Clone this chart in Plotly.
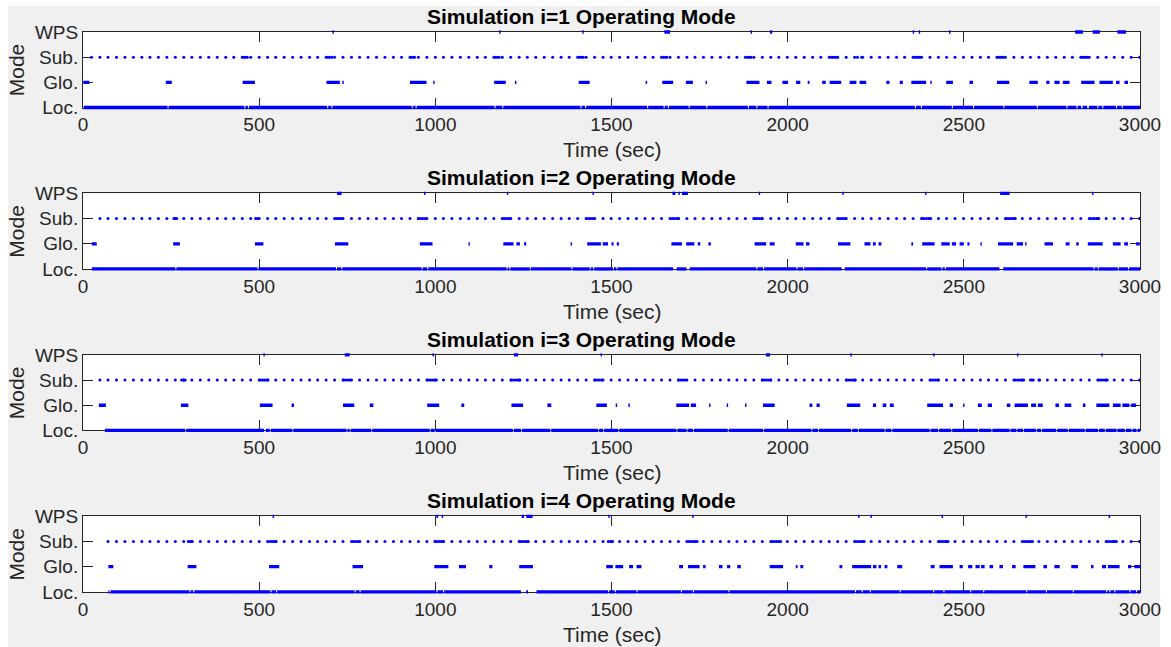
import plotly.graph_objects as go

# ---------------------------------------------------------------- data ----
X_MAX = 3000
X_TICKS = [0, 500, 1000, 1500, 2000, 2500, 3000]
MODE_LEVELS = [1, 2, 3, 4]
MODE_LABELS = ["Loc.", "Glo.", "Sub.", "WPS"]

# instants at which the substation optimisation step runs (common schedule, sec)
sub_schedule = [
    24, 48, 71, 95, 119, 143, 167, 190, 214, 238, 262, 286, 309, 333, 357, 381,
    405, 428, 452, 476, 500, 524, 547, 571, 595, 619, 643, 666, 690, 714, 738,
    762, 785, 809, 833, 857, 881, 904, 928, 952, 976, 1000, 1023, 1047, 1071,
    1095, 1119, 1142, 1166, 1190, 1214, 1238, 1261, 1285, 1309, 1333, 1357,
    1380, 1404, 1428, 1452, 1476, 1499, 1523, 1547, 1571, 1595, 1618, 1642,
    1666, 1690, 1714, 1737, 1761, 1785, 1809, 1833, 1856, 1880, 1904, 1928,
    1952, 1975, 1999, 2023, 2047, 2071, 2094, 2118, 2142, 2166, 2190, 2213,
    2237, 2261, 2285, 2309, 2332, 2356, 2380, 2404, 2428, 2451, 2475, 2499,
    2523, 2547, 2570, 2594, 2618, 2642, 2666, 2689, 2713, 2737, 2761, 2785,
    2808, 2832, 2856, 2880, 2904, 2927, 2951, 2975, 2999,
]

# ---- simulation i=1
sim1_start = 2
sim1_sub_from = 24
sim1_glo = [[1, 18], [235, 252], [453, 488], [691, 729], [736, 740], [928, 975],
            [994, 998], [1167, 1200], [1226, 1230], [1407, 1438], [1597, 1601],
            [1644, 1675], [1711, 1731], [1767, 1771], [1883, 1920], [1941, 1954],
            [1985, 2001], [2024, 2036], [2057, 2062], [2098, 2108], [2119, 2152],
            [2176, 2195], [2204, 2223], [2280, 2289], [2318, 2327], [2351, 2393],
            [2405, 2409], [2450, 2469], [2516, 2526], [2594, 2629], [2686, 2710],
            [2734, 2743], [2757, 2772], [2781, 2800], [2833, 2871], [2885, 2923],
            [2932, 2942], [2956, 2966]]
sim1_wps = [[708, 712], [1181, 1185], [1417, 1421], [1650, 1666], [1895, 1899],
            [1950, 1956], [2355, 2359], [2372, 2376], [2458, 2462], [2816, 2838],
            [2866, 2886], [2936, 2960]]
sim1_sub_extra = [456, 461, 466, 695, 700, 706, 931, 936, 941, 1171, 1176, 1181,
                  1410, 1415, 1420, 1647, 1652, 1657, 1886, 1891, 1896, 2123,
                  2128, 2133, 2138, 2198, 2210, 2360, 2365, 2370, 2375, 2598,
                  2603, 2608, 2613, 2836, 2841, 2846, 2851]
sim1_loc_gaps = [[240, 243], [458, 461], [468, 471], [693, 696], [705, 708],
                 [933, 936], [944, 947], [1168, 1171], [1190, 1193], [1412, 1415],
                 [1425, 1428], [1601, 1604], [1648, 1651], [1660, 1663], [1719, 1722],
                 [1769, 1772], [1887, 1890], [1911, 1914], [1943, 1946], [2361, 2364],
                 [2378, 2381], [2466, 2469], [2526, 2529], [2612, 2615], [2707, 2710],
                 [2791, 2794], [2820, 2823], [2833, 2837], [2850, 2855], [2879, 2882],
                 [2893, 2896], [2932, 2935], [2948, 2951]]

# ---- simulation i=2
sim2_start = 25
sim2_sub_from = 48
sim2_glo = [[25, 39], [256, 275], [488, 512], [715, 753], [956, 992], [1094, 1098],
            [1193, 1222], [1230, 1240], [1252, 1258], [1384, 1388], [1431, 1470],
            [1475, 1490], [1500, 1506], [1515, 1521], [1670, 1700], [1712, 1735],
            [1745, 1752], [1775, 1782], [1906, 1939], [1949, 1963], [2023, 2045],
            [2052, 2062], [2143, 2178], [2218, 2235], [2242, 2250], [2258, 2266],
            [2351, 2356], [2382, 2417], [2436, 2460], [2466, 2478], [2488, 2500],
            [2510, 2516], [2547, 2551], [2597, 2640], [2650, 2668], [2674, 2678],
            [2729, 2753], [2789, 2800], [2819, 2826], [2852, 2894], [2923, 2945],
            [2955, 2966], [2989, 2999]]
sim2_wps = [[721, 734], [968, 972], [1203, 1207], [1446, 1450], [1673, 1681],
            [1690, 1694], [1700, 1717], [1918, 1922], [2155, 2159], [2390, 2394],
            [2603, 2630], [2864, 2868]]
sim2_sub_extra = [258, 262, 266, 490, 495, 718, 723, 728, 733, 952, 958, 964, 970,
                  1195, 1200, 1206, 1212, 1433, 1439, 1445, 1451, 1672, 1678, 1684,
                  1690, 1908, 1914, 1920, 1926, 2145, 2151, 2157, 2163, 2382, 2388,
                  2394, 2400, 2406, 2622, 2628, 2634, 2640, 2646, 2859, 2865, 2871,
                  2877, 2883]
sim2_loc_gaps = [[262, 265], [495, 498], [718, 721], [733, 736], [961, 964],
                 [977, 980], [1202, 1205], [1210, 1213], [1268, 1271], [1386, 1389],
                 [1438, 1441], [1448, 1451], [1504, 1507], [1514, 1517], [1675, 1685],
                 [1713, 1722], [1911, 1914], [1930, 1933], [2025, 2028], [2044, 2047],
                 [2153, 2162], [2393, 2396], [2436, 2439], [2446, 2449], [2601, 2612],
                 [2868, 2871], [2880, 2883], [2937, 2940], [2966, 2969]]

# ---- simulation i=3
sim3_start = 62
sim3_sub_from = 48
sim3_glo = [[45, 65], [278, 299], [502, 538], [592, 599], [738, 770], [814, 824],
            [977, 1011], [1074, 1082], [1216, 1249], [1318, 1329], [1457, 1487],
            [1512, 1516], [1548, 1552], [1684, 1720], [1725, 1740], [1777, 1781],
            [1827, 1831], [1879, 1883], [1930, 1963], [2062, 2070], [2082, 2091],
            [2168, 2206], [2242, 2251], [2270, 2280], [2290, 2301], [2396, 2441],
            [2460, 2469], [2498, 2502], [2540, 2551], [2568, 2580], [2622, 2632],
            [2644, 2682], [2691, 2705], [2710, 2724], [2760, 2770], [2786, 2805],
            [2838, 2845], [2876, 2913], [2923, 2945], [2950, 2970], [2975, 2989]]
sim3_wps = [[512, 516], [743, 757], [992, 996], [1223, 1235], [1469, 1473],
            [1938, 1950], [2178, 2182], [2413, 2417], [2651, 2655], [2890, 2894]]
sim3_sub_extra = [280, 285, 290, 504, 510, 515, 520, 525, 740, 746, 752, 758, 979,
                  985, 991, 997, 1003, 1216, 1222, 1228, 1234, 1240, 1454, 1460,
                  1466, 1472, 1691, 1697, 1703, 1709, 1928, 1934, 1940, 1946, 1952,
                  2168, 2174, 2180, 2186, 2192, 2408, 2414, 2420, 2426, 2646, 2652,
                  2658, 2664, 2670, 2693, 2697, 2715, 2883, 2889, 2895, 2901, 2907]
sim3_loc_gaps = [[290, 293], [514, 519], [530, 533], [594, 597], [748, 751],
                 [757, 760], [818, 821], [984, 987], [998, 1001], [1220, 1223],
                 [1243, 1246], [1326, 1329], [1462, 1465], [1476, 1479], [1519, 1522],
                 [1684, 1687], [1713, 1716], [1731, 1734], [1830, 1833], [1930, 1933],
                 [2067, 2070], [2086, 2089], [2180, 2183], [2199, 2202], [2275, 2278],
                 [2294, 2297], [2403, 2406], [2427, 2430], [2464, 2467], [2540, 2543],
                 [2578, 2581], [2630, 2633], [2649, 2652], [2668, 2671], [2705, 2708],
                 [2719, 2722], [2762, 2765], [2795, 2798], [2843, 2846], [2881, 2884],
                 [2900, 2903], [2933, 2936], [2957, 2960], [2976, 2979], [2990, 2993]]

# ---- simulation i=4
sim4_start = 72
sim4_sub_from = 71
sim4_glo = [[72, 86], [297, 322], [528, 557], [765, 795], [997, 1037], [1067, 1087],
            [1153, 1162], [1238, 1277], [1485, 1504], [1511, 1533], [1550, 1561],
            [1571, 1585], [1692, 1703], [1717, 1750], [1760, 1767], [1805, 1815],
            [1828, 1837], [1857, 1867], [1949, 1987], [2023, 2028], [2036, 2044],
            [2147, 2155], [2183, 2237], [2242, 2252], [2258, 2265], [2275, 2283],
            [2311, 2325], [2406, 2417], [2431, 2469], [2488, 2497], [2512, 2524],
            [2533, 2545], [2549, 2559], [2573, 2583], [2601, 2611], [2637, 2647],
            [2669, 2703], [2726, 2736], [2757, 2772], [2805, 2824], [2861, 2868],
            [2892, 2904], [2909, 2942], [2966, 2975], [2984, 3000]]
sim4_wps = [[538, 542], [1003, 1008], [1018, 1022], [1245, 1252], [1258, 1276],
            [1491, 1495], [1729, 1733], [2200, 2204], [2235, 2239], [2437, 2441],
            [2675, 2679], [2911, 2915]]
sim4_sub_extra = [299, 304, 310, 530, 536, 542, 548, 767, 773, 779, 785, 999, 1005,
                  1011, 1017, 1023, 1240, 1246, 1252, 1258, 1264, 1491, 1497, 1503,
                  1719, 1725, 1731, 1737, 1743, 1956, 1962, 1968, 1974, 1980, 2193,
                  2199, 2205, 2211, 2217, 2431, 2437, 2443, 2449, 2455, 2671, 2677,
                  2683, 2689, 2695, 2909, 2915, 2921, 2927, 2933]
sim4_loc_gaps = [[75, 78], [302, 305], [313, 316], [532, 535], [548, 551],
                 [771, 774], [785, 788], [1003, 1006], [1022, 1025], [1243, 1258],
                 [1263, 1287], [1490, 1493], [1509, 1512], [1571, 1574], [1697, 1700],
                 [1731, 1734], [1832, 1835], [2191, 2194], [2210, 2213], [2233, 2236],
                 [2318, 2321], [2413, 2416], [2442, 2445], [2518, 2521], [2555, 2558],
                 [2677, 2680], [2733, 2736], [2809, 2812], [2904, 2907], [2913, 2916],
                 [2927, 2930], [2970, 2973], [2989, 2992]]

simulations = [
    (sim1_start, sim1_sub_from, sim1_glo, sim1_wps, sim1_sub_extra, sim1_loc_gaps),
    (sim2_start, sim2_sub_from, sim2_glo, sim2_wps, sim2_sub_extra, sim2_loc_gaps),
    (sim3_start, sim3_sub_from, sim3_glo, sim3_wps, sim3_sub_extra, sim3_loc_gaps),
    (sim4_start, sim4_sub_from, sim4_glo, sim4_wps, sim4_sub_extra, sim4_loc_gaps),
]

# -------------------------------------------------------------- layout ----
W, H = 1171, 647
AX_LEFT, AX_RIGHT = 83, 1140          # px
AX_TOP0, AX_STEP, AX_H = 32, 161.45, 75.5
TITLE_X = 581                         # px, centre of the panel titles
PAD = 5                               # px of headroom so edge marks are not clipped
BLUE = "#0000ff"
INK = "#262626"
FONT = "Liberation Sans, Arial, Helvetica, sans-serif"
TICK_SIZE, LABEL_SIZE = 19, 21


def spans_to_xy(spans, level):
    xs, ys = [], []
    for a, b in spans:
        xs += [a, b, None]
        ys += [level, level, None]
    return xs, ys


def loc_spans(start, gaps):
    out, cur = [], start
    for a, b in gaps:
        out.append([cur, a])
        cur = b
    out.append([cur, X_MAX])
    return out


def ax_id(k):
    return "" if k == 1 else str(k)


fig = go.Figure()
shapes, annotations = [], []

# light-grey figure area
shapes.append(dict(type="rect", xref="paper", yref="paper", layer="below",
                   x0=8 / W, x1=1160 / W, y0=0, y1=1 - 6 / H,
                   fillcolor="#f0f0f0", line=dict(width=0)))

xd = [AX_LEFT / W, AX_RIGHT / W]
for i, (start, sub_from, glo, wps, sub_extra, gaps) in enumerate(simulations):
    n = i + 1
    top = AX_TOP0 + AX_STEP * i
    bot = top + AX_H
    yd = [1 - bot / H, 1 - top / H]
    unit = AX_H / 3.0
    pad_u = PAD / unit
    xa, ya = "x" + ax_id(n), "y" + ax_id(n)
    xo, yo = "x" + ax_id(n + 4), "y" + ax_id(n + 4)

    fig.update_layout(**{
        "xaxis" + ax_id(n): dict(
            domain=xd, anchor=ya, range=[0, X_MAX], tickvals=X_TICKS,
            ticks="inside", ticklen=10, tickwidth=0.8, tickcolor=INK,
            showline=True, linecolor=INK, linewidth=1, mirror="ticks",
            showgrid=False, zeroline=False, layer="below traces", automargin=False,
            tickfont=dict(family=FONT, size=TICK_SIZE, color=INK)),
        "yaxis" + ax_id(n): dict(
            domain=yd, anchor=xa, range=[1, 4], tickvals=MODE_LEVELS,
            ticktext=MODE_LABELS, ticks="inside", ticklen=10,
            tickwidth=0.8, tickcolor=INK, showline=True, linecolor=INK,
            linewidth=1, mirror="ticks", showgrid=False, zeroline=False,
            layer="below traces", automargin=False,
            tickfont=dict(family=FONT, size=TICK_SIZE, color=INK)),
        # hidden twin axes with the same scale but a little headroom
        "xaxis" + ax_id(n + 4): dict(
            domain=xd, anchor=yo, range=[0, X_MAX], visible=False, automargin=False),
        "yaxis" + ax_id(n + 4): dict(
            domain=[yd[0] - PAD / H, yd[1] + PAD / H], anchor=xo,
            range=[1 - pad_u, 4 + pad_u], visible=False, automargin=False),
    })

    shapes.append(dict(type="rect", xref=f"{xa} domain", yref=f"{ya} domain",
                       layer="below", x0=0, x1=1, y0=0, y1=1,
                       fillcolor="white", line=dict(width=0)))

    # empty trace so the framed subplot is built
    fig.add_trace(go.Scatter(x=[None], y=[None], xaxis=xa, yaxis=ya, mode="lines",
                             hoverinfo="skip", showlegend=False))

    lx, ly = spans_to_xy(loc_spans(start, gaps), 1)
    gx, gy = spans_to_xy(glo, 2)
    wx, wy = spans_to_xy(wps, 4)
    sx = [t for t in sub_schedule if t >= sub_from] + sub_extra
    for xs, ys in ((lx, ly), (gx, gy), (wx, wy)):
        fig.add_trace(go.Scatter(x=xs, y=ys, xaxis=xo, yaxis=yo, mode="lines",
                                 line=dict(color=BLUE, width=3.3),
                                 hoverinfo="skip", showlegend=False))
    fig.add_trace(go.Scatter(x=sx, y=[3] * len(sx), xaxis=xo, yaxis=yo,
                             mode="markers", marker=dict(color=BLUE, size=3),
                             hoverinfo="skip", showlegend=False))

    xc = (xd[0] + xd[1]) / 2
    annotations.append(dict(text=f"<b>Simulation i={n} Operating Mode</b>",
                            xref="paper", yref="paper", x=TITLE_X / W,
                            y=1 - (top - 15.5) / H,
                            xanchor="center", yanchor="middle", showarrow=False,
                            font=dict(family=FONT, size=LABEL_SIZE, color="#000000")))
    annotations.append(dict(text="Time (sec)", xref="paper", yref="paper", x=xc,
                            y=1 - (bot + 42.5) / H, xanchor="center", yanchor="middle",
                            showarrow=False,
                            font=dict(family=FONT, size=LABEL_SIZE, color=INK)))
    annotations.append(dict(text="Mode", xref="paper", yref="paper", x=16.5 / W,
                            y=1 - (top + AX_H / 2) / H, xanchor="center",
                            yanchor="middle", textangle=-90, showarrow=False,
                            font=dict(family=FONT, size=LABEL_SIZE, color=INK)))

fig.update_layout(width=W, height=H, autosize=False,
                  margin=dict(l=0, r=0, t=0, b=0, pad=0, autoexpand=False),
                  paper_bgcolor="white", plot_bgcolor="rgba(0,0,0,0)",
                  shapes=shapes, annotations=annotations)

fig.write_html("out.html")
